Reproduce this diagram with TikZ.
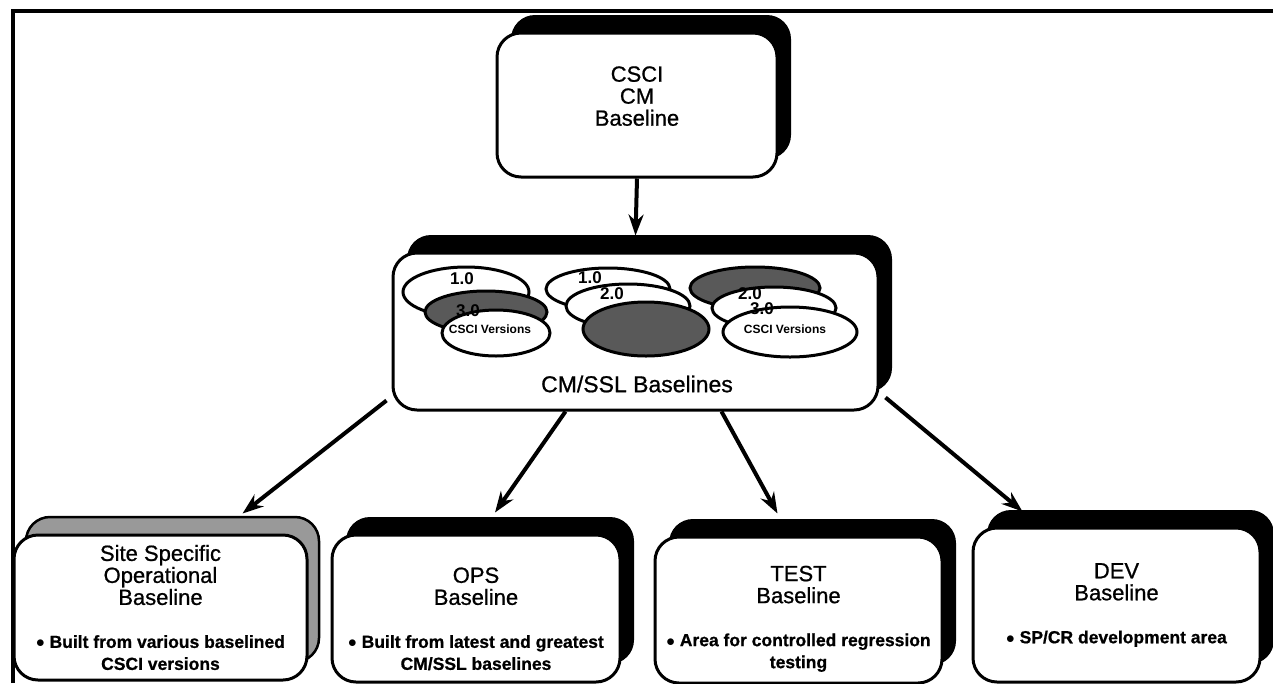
\documentclass[tikz,border=0pt]{standalone}
\usepackage{fontspec}
\setmainfont{Liberation Sans}
\newfontfamily\hdfam{Liberation Sans}[FakeBold=0.8]
\usetikzlibrary{arrows.meta,shadows}

\newcommand{\hdfont}{\hdfam\fontsize{22pt}{22pt}\selectfont}
\newcommand{\blfont}{\fontsize{17.5pt}{22pt}\selectfont\bfseries}

\tikzset{
	plainbox/.style={draw, line width=3pt, fill=white, rounded corners=24pt, align=center, font=\hdfont},
	box/.style={plainbox, drop shadow={shadow xshift=14pt, shadow yshift=18pt, fill=black, opacity=1}},
	greybox/.style={plainbox, drop shadow={shadow xshift=12pt, shadow yshift=18pt, fill=black!40, draw=black, line width=2.5pt, opacity=1}},
	ver/.style={draw, line width=3pt, fill=white},
	dark/.style={fill=black!65},
	num/.style={inner sep=0pt, font=\fontsize{17pt}{17pt}\selectfont\bfseries},
	csv/.style={inner sep=0pt, font=\fontsize{12pt}{12pt}\selectfont\bfseries},
	arr/.style={line width=4pt, -{Stealth[length=21pt,width=15pt]}}
}

\begin{document}
\begin{tikzpicture}[x=1pt,y=-1pt]
		\useasboundingbox (0,0) rectangle (1273,683);
		% outer frame, only top and left
		\draw[line width=4pt] (13,683) -- (13,11) -- (1273,11);

		% top and middle boxes
		\node[box, minimum width=280pt, minimum height=144pt, text depth=18pt] (cm) at (637,105) {CSCI\\CM\\Baseline};
		\node[box, minimum width=485pt, minimum height=157pt] (mid) at (635.5,331.5) {};
		\node[inner sep=0pt, font=\hdfam\fontsize{23pt}{23pt}\selectfont] (midlbl) at (637,384) {CM/SSL Baselines};

		% version ellipses, left group
		\draw[ver] (466,292) ellipse (63 and 25);
		\draw[ver,dark] (486,312) ellipse (61 and 21);
		\draw[ver] (496,333) ellipse (54 and 23);
		% middle group
		\draw[ver] (608,289) ellipse (62 and 21);
		\draw[ver] (628,306) ellipse (62 and 22);
		\draw[ver,dark] (646,329) ellipse (63 and 27);
		% right group
		\draw[ver,dark] (755,288) ellipse (65 and 21);
		\draw[ver] (774,308) ellipse (62 and 21);
		\draw[ver] (790,332) ellipse (67 and 25);

		\node[num] (ga1) at (462,279) {1.0};
		\node[num] (ga3) at (468,311) {3.0};
		\node[csv] (gav) at (490,329) {CSCI Versions};
		\node[num] (gb1) at (590,278) {1.0};
		\node[num] (gb2) at (612,294) {2.0};
		\node[num] (gc2) at (750,294) {2.0};
		\node[num] (gc3) at (762,309) {3.0};
		\node[csv] (gcv) at (785,329) {CSCI Versions};

		% -----------------------------------------------------
		% bottom row
		\node[greybox, minimum width=293pt, minimum height=145pt] (site) at (160.5,607.5)
			{Site Specific\\Operational\\Baseline\\[21pt]{\blfont $\bullet$ Built from various baselined}\\{\blfont CSCI versions}};
		\node[box, minimum width=288pt, minimum height=147pt] (ops) at (476,608.5)
			{\rule{0pt}{36pt}OPS\\Baseline\\[21pt]{\blfont $\bullet$ Built from latest and greatest}\\{\blfont CM/SSL baselines}};
		\node[box, minimum width=287pt, minimum height=146pt] (test) at (798.5,610)
			{\rule{0pt}{33pt}TEST\\Baseline\\[21pt]{\blfont $\bullet$ Area for controlled regression}\\{\blfont testing}};
		\node[box, minimum width=287pt, minimum height=154pt] (dev) at (1116.5,605)
			{DEV\\Baseline\\[21pt]{\blfont $\bullet$ SP/CR development area}};

		% -----------------------------------------------------
		\draw[arr] (cm.south) -- ([yshift=16pt]mid.north);
		\draw[arr] ([xshift=-5pt,yshift=11pt]mid.south west) -- ([xshift=82pt,yshift=20pt]site.north);
		\draw[arr] ([xshift=-70pt]mid.south) -- ([xshift=19pt,yshift=21pt]ops.north);
		\draw[arr] ([xshift=86pt]mid.south) -- ([xshift=-21pt,yshift=22pt]test.north);
		\draw[arr] ([xshift=6pt,yshift=14pt]mid.south east) -- ([xshift=-94pt,yshift=15pt]dev.north);

\end{tikzpicture}
\end{document}
